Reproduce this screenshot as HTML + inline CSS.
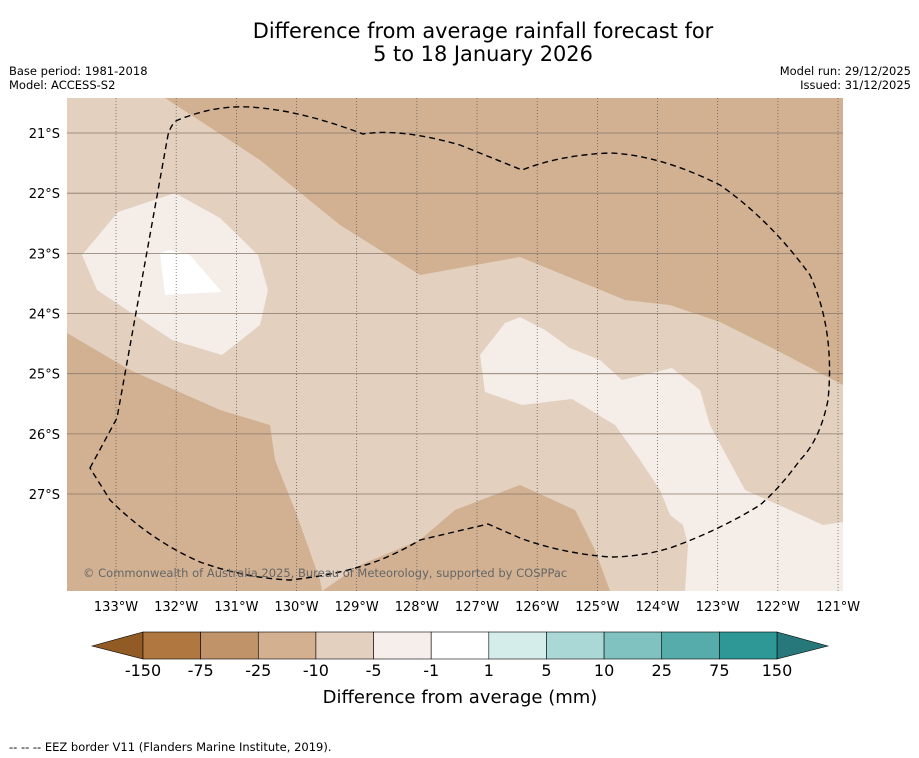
<!DOCTYPE html>
<html><head><meta charset="utf-8"><style>
body{margin:0;background:#fff;width:919px;height:758px;overflow:hidden;font-family:"Liberation Sans","DejaVu Sans",sans-serif}
svg{display:block}
</style></head><body>
<svg width="919" height="758" viewBox="0 0 919 758" font-family="DejaVu Sans, Liberation Sans, sans-serif">
<text x="483" y="38" text-anchor="middle" font-size="20.9">Difference from average rainfall forecast for</text>
<text x="483" y="61" text-anchor="middle" font-size="20.9">5 to 18 January 2026</text>
<text x="9" y="75" font-size="11.5">Base period: 1981-2018</text>
<text x="9" y="89" font-size="11.5">Model: ACCESS-S2</text>
<text x="911" y="75" font-size="11.5" text-anchor="end">Model run: 29/12/2025</text>
<text x="911" y="89" font-size="11.5" text-anchor="end">Issued: 31/12/2025</text>
<defs><clipPath id="mc"><rect x="67" y="98" width="776" height="493"/></clipPath></defs>
<g clip-path="url(#mc)">
<rect x="67" y="98" width="776" height="493" fill="#d1b192"/>
<polygon fill="#e3d0bf" points="67,98 165,98 260,160 340,225 420,275 520,257 625,300 670,305 720,322 780,352 843,385 843,591 610,591 595,550 575,510 520,485 455,510 420,540 360,565 322,591 320,580 295,510 275,460 270,425 220,410 130,370 67,333"/>
<polygon fill="#f4ede8" points="82,255 118,212 175,193 220,218 258,255 268,290 260,325 222,355 172,340 97,290"/>
<polygon fill="#ffffff" points="160,253 170,250 190,255 222,292 165,295"/>
<polygon fill="#f4ede8" points="480,355 505,323 520,317 545,330 570,348 600,360 622,380 672,368 700,390 710,425 745,490 790,510 823,525 843,522 843,591 685,591 688,545 683,525 670,515 660,490 640,460 615,425 572,399 522,405 485,392"/>
<g id="grid"></g>
<path fill="none" stroke="#000" stroke-width="1.4" stroke-dasharray="6,4" d="M90,468 L117,418 L168,135 Q172,122 178,120 Q215,105 250,107 Q300,110 363,134 Q400,128 460,145 L522,170 Q560,155 610,153 Q660,155 720,185 Q770,220 810,275 Q835,330 828,400 Q820,440 800,460 Q780,488 760,505 Q720,530 670,548 Q640,557 610,557 Q560,553 520,538 L488,524 L420,540 Q400,552 380,560 Q340,575 290,580 Q245,578 200,562 Q150,540 110,500 Z"/>
<text x="83" y="577" font-size="11.5" fill="#666">© Commonwealth of Australia 2025, Bureau of Meteorology, supported by COSPPac</text>
</g>
<g id="axes"></g>
<g id="cbar"></g>
<text x="460" y="703" text-anchor="middle" font-size="18">Difference from average (mm)</text>
<text x="9" y="751" font-size="11.5">-- -- -- EEZ border V11 (Flanders Marine Institute, 2019).</text>
</svg>
<script>
const lonTicks=[-133,-132,-131,-130,-129,-128,-127,-126,-125,-124,-123,-122,-121];
const latTicks=[-21,-22,-23,-24,-25,-26,-27];
const cbarLabels=["-150","-75","-25","-10","-5","-1","1","5","10","25","75","150"];
const cbarColors=["#b07840","#c09468","#d2b090","#e3d0bf","#f5eeea","#ffffff","#d4ecea","#aad8d6","#80c2c0","#56acab","#2e9896"];
const NS="http://www.w3.org/2000/svg";
const xS=l=>116+(l+133)*60.17, yS=la=>133+(-21-la)*60.17;
const grid=document.getElementById('grid'), axes=document.getElementById('axes'), cb=document.getElementById('cbar');
function mk(tag,at,parent){const e=document.createElementNS(NS,tag);for(const k in at)e.setAttribute(k,at[k]);parent.appendChild(e);return e;}
lonTicks.forEach(l=>{const x=xS(l);
 const ln=mk('line',{x1:x,x2:x,y1:98,y2:591,stroke:'#555','stroke-width':0.7,'stroke-dasharray':'1,2'},grid);
 
 
 const t=mk('text',{x:x,y:611,'text-anchor':'middle','font-size':13},axes);t.textContent=Math.abs(l)+'°W';
 
 
});
latTicks.forEach(la=>{const y=yS(la);
 const ln=mk('line',{x1:67,x2:843,y1:y,y2:y,stroke:'#8a7a6a','stroke-width':0.8},grid);
 
 
 const t=mk('text',{x:60,y:y+5,'text-anchor':'end','font-size':13},axes);t.textContent=Math.abs(la)+'°S';
 
 
});
const x0=143,x1=777,w=(x1-x0)/cbarColors.length;
const a1=mk('polygon',{points:`92,646 ${x0},632 ${x0},659`,fill:'#925a24',stroke:'#000','stroke-width':0.6},cb);


const a2=mk('polygon',{points:`828,646 ${x1},632 ${x1},659`,fill:'#27787a',stroke:'#000','stroke-width':0.6},cb);


cbarColors.forEach((c,i)=>{const r=mk('rect',{x:x0+i*w,y:632,width:w,height:27,fill:c,stroke:'#000','stroke-width':0.6},cb);
 
 });
cbarLabels.forEach((s,i)=>{const t=mk('text',{x:x0+i*w,y:676,'text-anchor':'middle','font-size':16},cb);t.textContent=s;
 
 });
</script>
</body></html>
